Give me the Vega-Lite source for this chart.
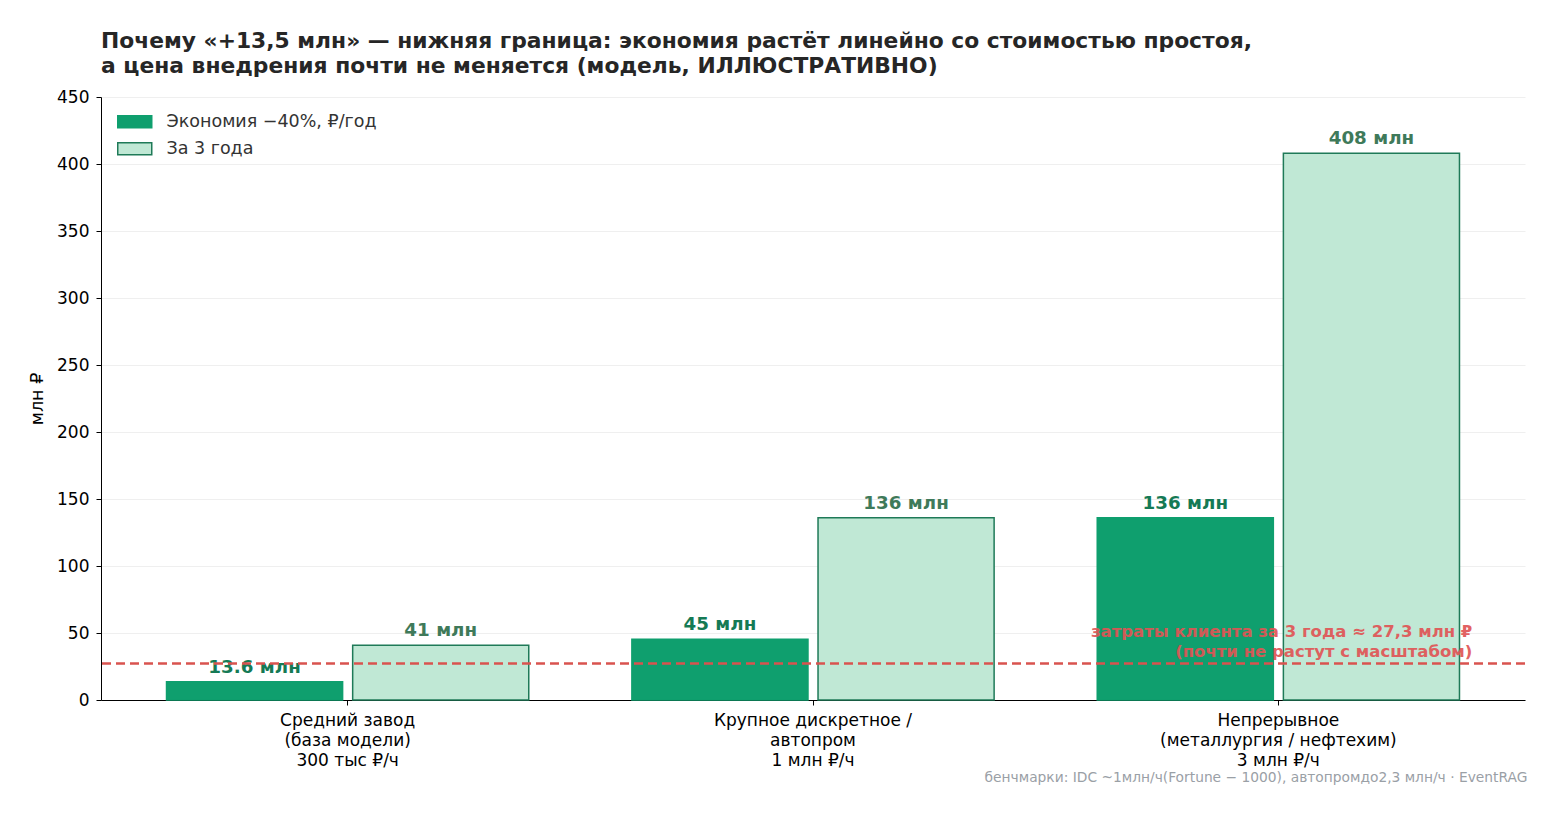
{
  "$schema": "https://vega.github.io/schema/vega-lite/v6.json",
  "width": 1424,
  "height": 603,
  "autosize": {"type": "none"},
  "padding": {"left": 101, "top": 97, "right": 35, "bottom": 117},
  "background": "white",
  "title": {
    "text": [
      "Почему «+13,5 млн» — нижняя граница: экономия растёт линейно со стоимостью простоя,",
      "а цена внедрения почти не меняется (модель, ИЛЛЮСТРАТИВНО)"
    ],
    "anchor": "start",
    "frame": "group",
    "font": "DejaVu Sans",
    "fontSize": 21.8,
    "fontWeight": "bold",
    "color": "#262626",
    "lineHeight": 25.5,
    "offset": 10
  },
  "config": {
    "font": "DejaVu Sans",
    "view": {"stroke": null},
    "axis": {
      "labelFont": "DejaVu Sans",
      "titleFont": "DejaVu Sans",
      "labelColor": "#000000",
      "titleColor": "#000000",
      "domainColor": "#000000",
      "tickColor": "#000000",
      "labelFontSize": 17,
      "titleFontSize": 17.5,
      "titleFontWeight": "normal",
      "tickSize": 5,
      "labelPadding": 4,
      "labelLimit": 500
    },
    "legend": {
      "labelFont": "DejaVu Sans",
      "labelFontSize": 17.5,
      "labelColor": "#333333",
      "labelLimit": 500
    }
  },
  "datasets": {
    "bars": [
      {"cat": "Средний завод", "series": "Экономия −40%, ₽/год", "value": 13.6, "label": "13.6 млн"},
      {"cat": "Средний завод", "series": "За 3 года", "value": 40.8, "label": "41 млн"},
      {"cat": "Крупное дискретное", "series": "Экономия −40%, ₽/год", "value": 45.3, "label": "45 млн"},
      {"cat": "Крупное дискретное", "series": "За 3 года", "value": 136, "label": "136 млн"},
      {"cat": "Непрерывное", "series": "Экономия −40%, ₽/год", "value": 136, "label": "136 млн"},
      {"cat": "Непрерывное", "series": "За 3 года", "value": 408, "label": "408 млн"}
    ]
  },
  "encoding": {
    "x": {
      "field": "cat",
      "type": "nominal",
      "sort": ["Средний завод", "Крупное дискретное", "Непрерывное"],
      "scale": {"paddingInner": 0.2, "paddingOuter": 0.13},
      "axis": {
        "title": null,
        "labelAngle": 0,
        "labelLineHeight": 20,
        "labelPadding": 7,
        "labelExpr": "datum.value == 'Средний завод' ? ['Средний завод', '(база модели)', '300 тыс ₽/ч'] : datum.value == 'Крупное дискретное' ? ['Крупное дискретное /', 'автопром', '1 млн ₽/ч'] : ['Непрерывное', '(металлургия / нефтехим)', '3 млн ₽/ч']",
        "grid": false
      }
    }
  },
  "layer": [
    {
      "data": {"name": "bars"},
      "mark": {"type": "bar", "strokeWidth": 1.5},
      "encoding": {
        "xOffset": {
          "field": "series",
          "type": "nominal",
          "sort": ["Экономия −40%, ₽/год", "За 3 года"],
          "scale": {"paddingInner": 0.054, "paddingOuter": 0.027}
        },
        "y": {
          "field": "value",
          "type": "quantitative",
          "scale": {"domain": [0, 450], "nice": false},
          "axis": {
            "title": "млн ₽",
            "values": [0, 50, 100, 150, 200, 250, 300, 350, 400, 450],
            "gridColor": "#ebebeb",
            "gridWidth": 0.8,
            "labelPadding": 7,
            "titlePadding": 10
          }
        },
        "fill": {
          "field": "series",
          "type": "nominal",
          "sort": ["Экономия −40%, ₽/год", "За 3 года"],
          "scale": {"domain": ["Экономия −40%, ₽/год", "За 3 года"], "range": ["#0f9f6e", "#c0e8d5"]},
          "legend": {
            "title": null,
            "orient": "top-left",
            "offset": 16,
            "symbolType": "M-2.833,-1L2.833,-1L2.833,1L-2.833,1Z",
            "symbolSize": 144,
            "symbolStrokeWidth": 1.5,
            "symbolOffset": 9,
            "labelOffset": 23,
            "rowPadding": 8
          }
        },
        "stroke": {
          "field": "series",
          "type": "nominal",
          "sort": ["Экономия −40%, ₽/год", "За 3 года"],
          "scale": {"domain": ["Экономия −40%, ₽/год", "За 3 года"], "range": ["#0f9f6e", "#1f7a58"]},
          "legend": {
            "title": null,
            "orient": "top-left",
            "offset": 16,
            "symbolType": "M-2.833,-1L2.833,-1L2.833,1L-2.833,1Z",
            "symbolSize": 144,
            "symbolStrokeWidth": 1.5,
            "symbolOffset": 9,
            "labelOffset": 23,
            "rowPadding": 8
          }
        }
      }
    },
    {
      "data": {"name": "bars"},
      "transform": [{"filter": "datum.series == 'Экономия −40%, ₽/год'"}],
      "mark": {"type": "text", "baseline": "bottom", "dy": -5, "fontSize": 18.3, "fontWeight": "bold", "color": "#157a55"},
      "encoding": {
        "xOffset": {"field": "series", "type": "nominal", "sort": ["Экономия −40%, ₽/год", "За 3 года"]},
        "y": {"field": "value", "type": "quantitative"},
        "text": {"field": "label"}
      }
    },
    {
      "data": {"name": "bars"},
      "transform": [{"filter": "datum.series == 'За 3 года'"}],
      "mark": {"type": "text", "baseline": "bottom", "dy": -5, "fontSize": 18.3, "fontWeight": "bold", "color": "#3f7a5a"},
      "encoding": {
        "xOffset": {"field": "series", "type": "nominal", "sort": ["Экономия −40%, ₽/год", "За 3 года"]},
        "y": {"field": "value", "type": "quantitative"},
        "text": {"field": "label"}
      }
    },
    {
      "data": {"values": [{"cost": 27.3}]},
      "mark": {"type": "rule", "color": "#d9534f", "strokeWidth": 2.5, "strokeDash": [9, 5]},
      "encoding": {
        "x": null,
        "y": {"field": "cost", "type": "quantitative"}
      }
    },
    {
      "data": {"values": [{"cat": "Непрерывное", "cost": 27.3, "note": ["затраты клиента за 3 года ≈ 27,3 млн ₽", "(почти не растут с масштабом)"]}]},
      "mark": {"type": "text", "align": "right", "baseline": "middle", "dx": 194, "dy": -31, "fontSize": 16.5, "fontWeight": "bold", "color": "#e05555", "opacity": 0.92, "lineHeight": 19.5},
      "encoding": {
        "y": {"field": "cost", "type": "quantitative"},
        "text": {"field": "note"}
      }
    },
    {
      "data": {"values": [{"cat": "Непрерывное", "base": 0, "note": "бенчмарки: IDC ~1млн/ч(Fortune − 1000), автопромдо2,3 млн/ч · EventRAG"}]},
      "mark": {"type": "text", "align": "right", "baseline": "middle", "dx": 249, "dy": 78, "fontSize": 13.8, "color": "#9aa0a6"},
      "encoding": {
        "y": {"field": "base", "type": "quantitative"},
        "text": {"field": "note"}
      }
    }
  ]
}
